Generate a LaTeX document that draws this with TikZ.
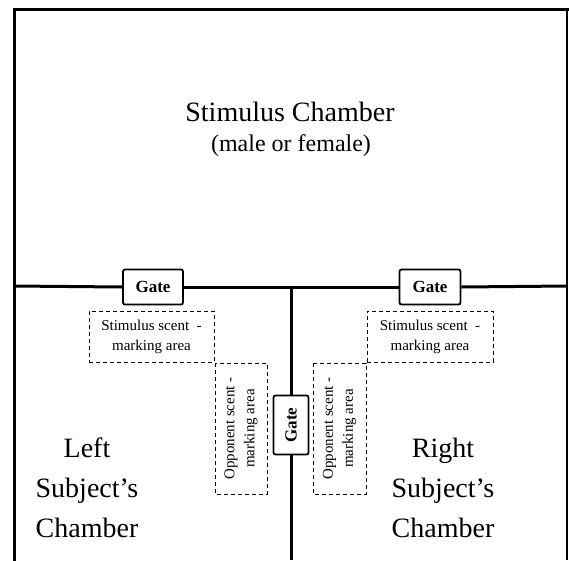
\documentclass[tikz,border=0pt]{standalone}
\usepackage{fontspec}
\setmainfont{Liberation Serif}
\usetikzlibrary{positioning}

\begin{document}
\begin{tikzpicture}[
    x=1pt, y=-1pt,
    wall/.style={line width=3pt},
    gate/.style={draw, line width=1.8pt, rounded corners=2pt, fill=white, inner sep=0pt, font=\fontsize{17}{17}\selectfont\bfseries},
    scent/.style={draw, dash pattern=on 4pt off 3pt, line width=0.8pt, align=center, inner sep=0pt, font=\fontsize{15}{20}\selectfont},
    chamber/.style={align=center, font=\fontsize{28}{40}\selectfont}
]
\useasboundingbox (0,0) rectangle (569,560);

% outer walls (open at the bottom)
\coordinate (botl) at (14,560);
\coordinate (topl) at (14,9);
\coordinate (topr) at (567,9);
\coordinate (botr) at (567,560);
\draw[wall, line cap=rect] (botl) -- (topl) -- (topr);
\draw[line width=2pt] (topr) -- (botr);

% gates
\node[gate, minimum width=60pt, minimum height=35pt] (lgate) at (153,287) {Gate};
\node[gate, minimum width=61pt, minimum height=35pt] (rgate) at (430,287) {Gate};
\node[gate, rotate=90, minimum width=59pt, minimum height=35pt] (cgate) at (291,425) {Gate};

% dividers
\coordinate (midl) at (14,286);
\coordinate (midr) at (567,286);
\coordinate (split) at (291,286);
\coordinate (floor) at (291,560);
\draw[wall] (midl) -- (lgate.west);
\draw[wall] (lgate.east) -- (rgate.west);
\draw[wall] (rgate.east) -- (midr);
\draw[wall] (split) -- (cgate.east);
\draw[wall] (cgate.west) -- (floor);

% scent marking areas
\node[scent, minimum width=125pt, minimum height=51pt] (lstim) at (151.5,336.5) {Stimulus scent \ -\\marking area};
\node[scent, minimum width=126pt, minimum height=51pt] (rstim) at (430,336.5) {Stimulus scent \ -\\marking area};
\node[scent, rotate=90, minimum width=131pt, minimum height=52pt] (lopp) at (241,428.5) {Opponent scent -\\marking area};
\node[scent, rotate=90, minimum width=131pt, minimum height=53pt] (ropp) at (339.5,428.5) {Opponent scent -\\marking area};

% chamber names
\node[font=\fontsize{28}{28}\selectfont, anchor=base] (stim) at (290,121) {Stimulus Chamber};
\node[font=\fontsize{24}{24}\selectfont, anchor=base] (sex) at (291,151) {(male or female)};
\node[chamber] (left) at (87,488) {Left\\Subject’s\\Chamber};
\node[chamber] (right) at (443,488) {Right\\Subject’s\\Chamber};
\end{tikzpicture}
\end{document}
